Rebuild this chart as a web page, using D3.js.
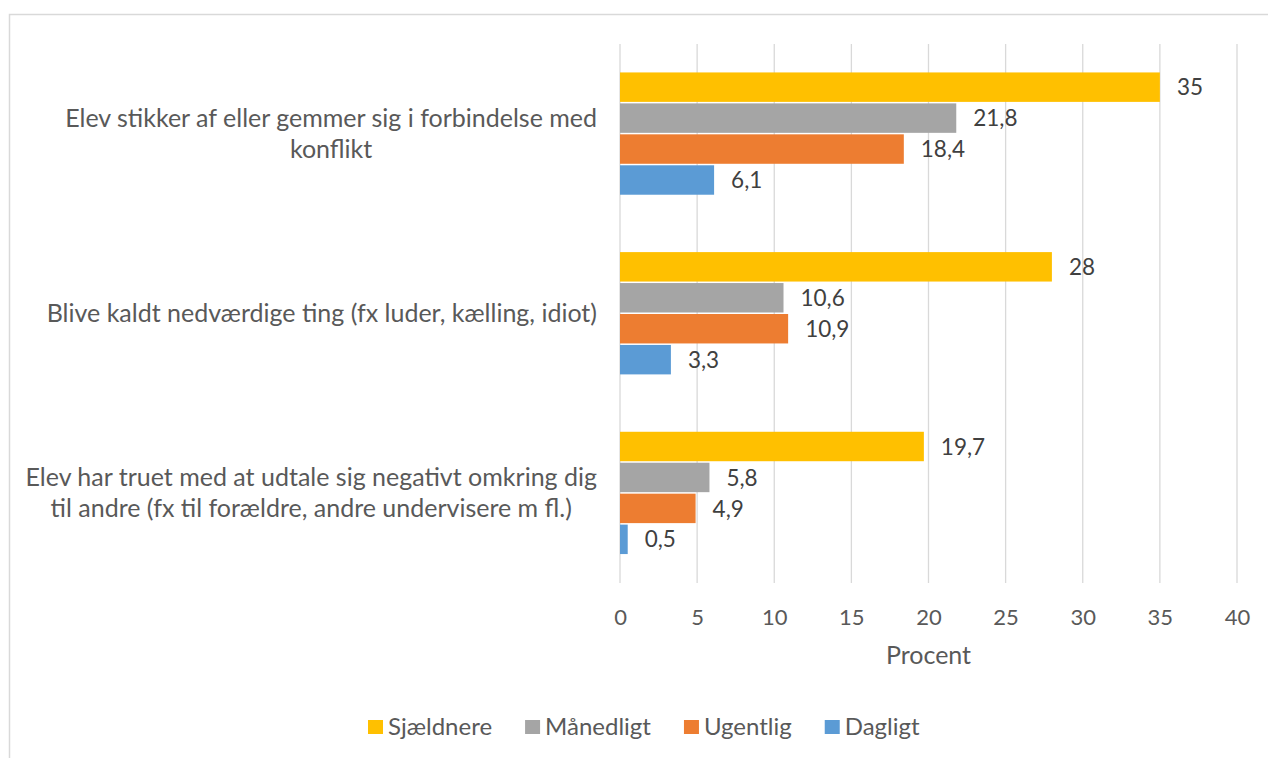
<!DOCTYPE html>
<html>
<head>
<meta charset="utf-8">
<script src="https://cdn.jsdelivr.net/npm/d3@7"></script>
<style>
  html, body { margin: 0; padding: 0; background: #fff; }
  svg { display: block; font-family: Lato, "Open Sans", sans-serif; }
</style>
</head>
<body>
<svg id="chart" width="1268" height="758"></svg>
<script>
// Data
var categories = [
  ['Elev stikker af eller gemmer sig i forbindelse med', 'konflikt'],
  ['Blive kaldt nedværdige ting (fx luder, kælling, idiot)'],
  ['Elev har truet med at udtale sig negativt omkring dig', 'til andre (fx til forældre, andre undervisere m fl.)']
];
var seriesNames = ['Sjældnere', 'Månedligt', 'Ugentlig', 'Dagligt'];
var sjaeldnere = [35, 28, 19.7];
var maanedligt = [21.8, 10.6, 5.8];
var ugentlig = [18.4, 10.9, 4.9];
var dagligt = [6.1, 3.3, 0.5];
var xTicks = [0, 5, 10, 15, 20, 25, 30, 35, 40];

var COLORS = ['#FFC000', '#A5A5A5', '#ED7D31', '#5B9BD5'];
var TEXT = '#595959';
var GRID = '#D9D9D9';

var series = [sjaeldnere, maanedligt, ugentlig, dagligt];
var plot = { left: 620, right: 1237, top: 44, bottom: 583 };

var svg = d3.select('#chart');

// chart border (cut off at right/bottom in the reference)
svg.append('path')
  .attr('d', 'M9.5,760 V14.5 H1270')
  .attr('fill', 'none')
  .attr('stroke', GRID)
  .attr('stroke-width', 1.5);

var x = d3.scaleLinear().domain([0, 40]).range([plot.left, plot.right]);
var y0 = d3.scaleBand().domain(d3.range(categories.length))
  .range([plot.top, plot.bottom]).paddingInner(0.311).paddingOuter(0.1555);
var y1 = d3.scaleBand().domain(d3.range(series.length)).range([0, y0.bandwidth()]);

// gridlines
svg.append('g').selectAll('line').data(xTicks).enter().append('line')
  .attr('x1', function (d) { return x(d); })
  .attr('x2', function (d) { return x(d); })
  .attr('y1', plot.top).attr('y2', plot.bottom)
  .attr('stroke', GRID).attr('stroke-width', 1.3);

// tick labels via axis
var axis = svg.append('g')
  .attr('transform', 'translate(0,' + plot.bottom + ')')
  .call(d3.axisBottom(x).tickValues(xTicks).tickSize(0).tickPadding(0));
axis.select('.domain').remove();
axis.selectAll('text')
  .attr('y', 34).attr('dy', '0.35em')
  .attr('fill', TEXT).style('font-size', '22px')
  .style('font-family', 'Lato, "Open Sans", sans-serif');

svg.append('text')
  .attr('x', (plot.left + plot.right) / 2).attr('y', 655)
  .attr('dy', '0.35em')
  .attr('text-anchor', 'middle').attr('fill', TEXT)
  .style('font-size', '25px').text('Procent');

// bars
var groups = svg.append('g').selectAll('g').data(categories).enter().append('g')
  .attr('transform', function (d, i) { return 'translate(0,' + y0(i) + ')'; });

groups.each(function (cat, ci) {
  var g = d3.select(this);
  var rows = series.map(function (s, si) { return { si: si, v: s[ci] }; });
  g.selectAll('rect').data(rows).enter().append('rect')
    .attr('x', x(0))
    .attr('y', function (d) { return y1(d.si) + 0.5; })
    .attr('height', y1.bandwidth() - 1.5)
    .attr('width', function (d) { return x(d.v) - x(0); })
    .attr('fill', function (d) { return COLORS[d.si]; });
  g.selectAll('text.val').data(rows).enter().append('text')
    .attr('class', 'val')
    .attr('x', function (d) { return x(d.v) + 17; })
    .attr('y', function (d) { return y1(d.si) + y1.bandwidth() / 2; })
    .attr('dy', '0.35em')
    .attr('fill', '#404040')
    .style('font-size', '22.5px')
    .text(function (d) { return String(d.v).replace('.', ','); });
});

// category labels: block right-aligned at the axis, lines centred within block
categories.forEach(function (lines, ci) {
  var cy = y0(ci) + y0.bandwidth() / 2;
  var lh = 31;
  var t = svg.append('g');
  var texts = lines.map(function (line, li) {
    return t.append('text')
      .attr('y', cy + (li - (lines.length - 1) / 2) * lh)
      .attr('dy', '0.35em')
      .attr('text-anchor', 'middle')
      .attr('fill', TEXT)
      .style('font-size', '25px')
      .text(line);
  });
  var maxW = d3.max(texts, function (tx) { return tx.node().getComputedTextLength(); });
  texts.forEach(function (tx) { tx.attr('x', 597 - maxW / 2); });
});

// legend
var legend = svg.append('g').attr('transform', 'translate(0,727)');
var lx = 368;
seriesNames.forEach(function (name, i) {
  legend.append('rect').attr('x', lx).attr('y', -7).attr('width', 15).attr('height', 14)
    .attr('fill', COLORS[i]);
  var tx = legend.append('text').attr('x', lx + 20).attr('y', 0).attr('dy', '0.35em')
    .attr('fill', TEXT).style('font-size', '24px').text(name);
  lx += 20 + tx.node().getComputedTextLength() + 33;
});
</script>
</body>
</html>
